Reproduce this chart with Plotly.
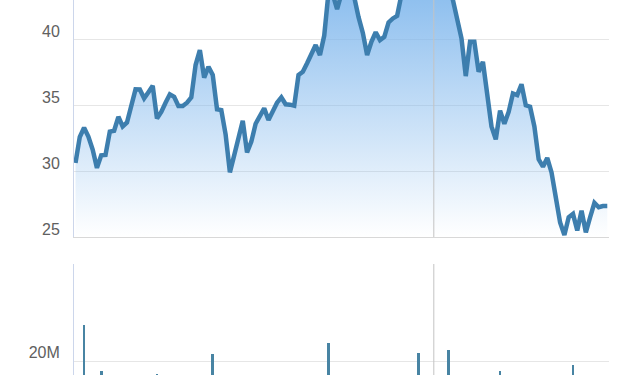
import plotly.graph_objects as go

# trading-day index
days = list(range(125))

close = [
    30.62, 32.6, 33.3, 32.63, 31.64, 30.25, 31.2, 31.23, 33.0, 33.07,
    34.13, 33.4, 33.7, 34.9, 36.21, 36.2, 35.53, 36.0, 36.49, 34.0,
    34.5, 35.2, 35.84, 35.65, 34.95, 34.95, 35.2, 35.6, 38.06, 39.2,
    37.1, 37.93, 37.3, 34.7, 34.64, 32.8, 29.91, 31.2, 32.6, 33.83,
    31.43, 32.24, 33.6, 34.26, 34.77, 33.88, 34.6, 35.2, 35.61, 35.08,
    35.05, 34.97, 37.3, 37.55, 38.2, 38.9, 39.58, 38.82, 40.3, 43.6,
    43.4, 42.31, 43.8, 44.6, 44.3, 43.2, 41.7, 40.5, 38.82, 39.83,
    40.55, 39.95, 40.2, 41.3, 41.6, 41.8, 43.4, 44.5, 45.2, 45.6,
    45.9, 46.2, 46.0, 45.7, 45.5, 45.0, 44.4, 44.0, 43.0, 41.4,
    40.09, 37.22, 39.83, 39.83, 37.55, 38.3, 36.0, 33.4, 32.42, 34.6,
    33.6, 34.5, 35.9, 35.78, 36.6, 35.0, 34.9, 33.4, 30.9, 30.34,
    31.0, 29.9, 28.0, 26.1, 25.15, 26.5, 26.75, 25.5, 27.0, 25.36,
    26.5, 27.6, 27.26, 27.35, 27.35,
]

volume_m = [
    12.4, 9.8, 27.4, 14.1, 10.6, 11.9, 17.9, 9.3, 8.7, 10.2,
    12.8, 9.6, 8.1, 11.5, 13.7, 9.9, 8.4, 10.8, 12.3, 17.3,
    11.2, 9.1, 8.6, 7.9, 9.4, 8.8, 10.1, 11.6, 14.9, 15.8,
    13.2, 12.1, 21.4, 14.6, 11.3, 13.9, 15.2, 12.7, 10.4, 9.7,
    12.2, 10.9, 9.5, 8.9, 8.3, 9.2, 8.0, 7.6, 8.5, 7.8,
    7.4, 8.2, 12.6, 10.7, 11.8, 12.9, 13.4, 11.1, 14.3, 23.7,
    15.6, 13.0, 12.5, 11.4, 10.3, 11.7, 13.6, 12.0, 14.8, 11.0,
    9.9, 10.5, 9.0, 10.8, 9.4, 8.7, 10.1, 11.3, 12.4, 13.8,
    21.7, 14.2, 12.6, 11.5, 10.2, 12.9, 14.0, 22.3, 15.1, 13.3,
    14.7, 12.8, 16.2, 13.5, 11.6, 12.3, 10.9, 12.1, 15.4, 17.9,
    13.7, 11.8, 10.6, 9.8, 10.4, 11.2, 12.7, 10.3, 13.1, 15.9,
    14.4, 12.0, 13.6, 15.0, 16.4, 16.8, 19.2, 14.5, 13.2, 12.2,
    14.1, 11.7, 10.8, 9.6, 8.9,
]

price_ticks = [25, 30, 35, 40]
volume_ticks = [20e6, 40e6]
volume_ticktext = ["20M", ""]
marker_day = 83.55

LINE = "#3d7eae"
BAR = "#4884a3"
FONT = dict(family="Liberation Sans, Arial, sans-serif", size=16, color="#606060")

fig = go.Figure()
fig.add_trace(go.Scatter(
    x=days, y=close, mode="lines",
    line=dict(color=LINE, width=4.5),
    fill="tozeroy",
    fillgradient=dict(type="vertical",
                      colorscale=[[0, "rgba(124,181,236,0.0)"], [1, "rgba(124,181,236,1.0)"]],
                      start=25, stop=max(close)),
    xaxis="x", yaxis="y", hoverinfo="skip",
))
fig.add_trace(go.Bar(
    x=days, y=[v * 1e6 for v in volume_m],
    marker=dict(color=BAR, line=dict(width=0)),
    width=0.65, xaxis="x2", yaxis="y2", hoverinfo="skip",
))

xr = [-0.35, 124.4]
fig.update_layout(
    width=640, height=375,
    margin=dict(l=74, r=31, t=0, b=0, autoexpand=False),
    paper_bgcolor="white", plot_bgcolor="white",
    showlegend=False,
    xaxis=dict(domain=[0, 1], range=xr, anchor="y", showgrid=False, zeroline=False,
               showticklabels=False, ticks="", showline=True, linecolor="#d8d8d8", linewidth=1,
               automargin=False),
    yaxis=dict(domain=[0.368, 1], range=[25, 43.0], tickvals=price_ticks,
               showgrid=True, gridcolor="#e6e6e6", gridwidth=1, zeroline=False,
               showline=True, linecolor="#ccd6eb", linewidth=1, ticks="",
               ticklabelshift=-8, ticklabelstandoff=10, tickfont=FONT, automargin=False),
    xaxis2=dict(domain=[0, 1], range=xr, anchor="y2", showgrid=False, zeroline=False,
                showticklabels=False, ticks="", showline=False, automargin=False),
    yaxis2=dict(domain=[0, 0.296], range=[17.113e6, 40e6], tickvals=volume_ticks,
                ticktext=volume_ticktext, showgrid=True, gridcolor="#e6e6e6", gridwidth=1,
                zeroline=False, showline=True, linecolor="#ccd6eb", linewidth=1, ticks="",
                ticklabelshift=-9, ticklabelstandoff=10, tickfont=FONT, automargin=False),
    bargap=0,
)

fig.add_shape(type="line", xref="x", yref="y domain", x0=marker_day, x1=marker_day,
              y0=0, y1=1, line=dict(color="#c4c4c4", width=1), layer="above")
fig.add_shape(type="line", xref="x2", yref="y2 domain", x0=marker_day, x1=marker_day,
              y0=0, y1=1, line=dict(color="#c4c4c4", width=1), layer="above")

fig.write_html("out.html")
